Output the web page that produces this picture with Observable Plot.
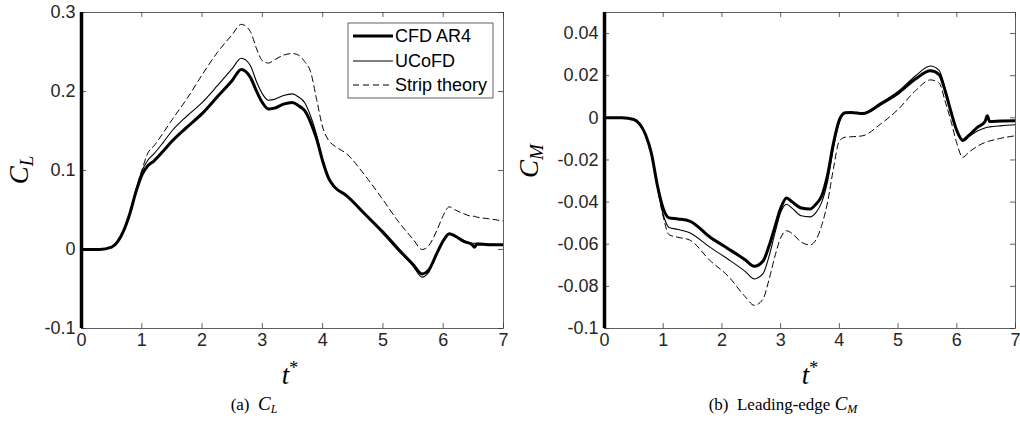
<!DOCTYPE html>
<html>
<head>
<meta charset="utf-8">
<script src="https://cdn.jsdelivr.net/npm/d3@7"></script>
<script src="https://cdn.jsdelivr.net/npm/@observablehq/plot@0.6"></script>
<style>
  html, body { margin: 0; padding: 0; background: #fff; }
  #wrap { position: relative; width: 1020px; height: 429px; overflow: hidden; }
  .panel { position: absolute; top: 0; }
  .cap { position: absolute; font-family: "Liberation Serif", "Times New Roman", serif; font-size: 17px; color: #000; white-space: nowrap; transform: translateX(-50%); }
  .cap i { font-style: italic; font-size: 19px; }
  .cap sub { font-size: 12px; font-style: italic; vertical-align: -3px; }
  .panel svg text.tk { font-size: 18px !important; fill: #262626; }
</style>
</head>
<body>
<div id="wrap"></div>
<script>
// ---------- data ----------
const tL = [0,0.3,0.5,0.6,0.7,0.8,0.9,1.0,1.1,1.2,1.35,1.5,1.75,2.0,2.25,2.5,2.65,2.8,2.9,3.0,3.1,3.2,3.35,3.5,3.6,3.7,3.8,3.9,4.0,4.1,4.2,4.4,4.7,5.0,5.25,5.5,5.65,5.75,5.9,6.0,6.1,6.2,6.35,6.48,6.52,6.56,6.75,7.0];
const clCFD = [0,0,0.003,0.01,0.024,0.045,0.072,0.094,0.106,0.112,0.124,0.137,0.155,0.172,0.193,0.214,0.228,0.218,0.201,0.186,0.178,0.179,0.184,0.186,0.182,0.176,0.161,0.140,0.112,0.090,0.079,0.068,0.045,0.022,0.001,-0.019,-0.031,-0.027,-0.004,0.011,0.020,0.017,0.010,0.006,0.003,0.007,0.006,0.006];
const clUCoFD = [0,0,0.003,0.01,0.024,0.046,0.075,0.099,0.113,0.121,0.135,0.150,0.169,0.186,0.207,0.229,0.242,0.233,0.213,0.197,0.189,0.190,0.195,0.197,0.193,0.186,0.169,0.145,0.114,0.091,0.079,0.067,0.044,0.020,-0.001,-0.021,-0.035,-0.030,-0.005,0.010,0.019,0.017,0.011,0.008,0.008,0.008,0.007,0.006];
const clStrip = [0,0,0.003,0.01,0.024,0.046,0.075,0.100,0.122,0.131,0.147,0.164,0.191,0.221,0.249,0.272,0.285,0.276,0.255,0.239,0.236,0.240,0.246,0.248,0.246,0.238,0.225,0.190,0.155,0.138,0.131,0.121,0.094,0.063,0.036,0.013,0.000,0.004,0.025,0.043,0.054,0.050,0.045,0.042,0.042,0.041,0.039,0.036];

const tR = [0,0.3,0.5,0.6,0.7,0.8,0.9,1.0,1.1,1.25,1.45,1.8,2.1,2.4,2.55,2.7,2.8,2.9,3.0,3.1,3.2,3.35,3.5,3.6,3.7,3.8,3.9,4.0,4.1,4.2,4.4,4.7,5.0,5.3,5.55,5.7,5.8,5.9,6.0,6.1,6.2,6.35,6.48,6.52,6.56,6.75,7.0];
const cmCFD = [0,0,-0.0008,-0.003,-0.008,-0.017,-0.032,-0.043,-0.0475,-0.048,-0.049,-0.0567,-0.062,-0.0675,-0.0705,-0.068,-0.061,-0.052,-0.043,-0.038,-0.040,-0.0428,-0.0433,-0.041,-0.037,-0.027,-0.012,-0.001,0.0024,0.0025,0.002,0.0065,0.0117,0.0185,0.0223,0.0205,0.013,0.003,-0.006,-0.0106,-0.0085,-0.0045,-0.0018,0.001,-0.0017,-0.0015,-0.0014];
const cmUCoFD = [0,0,-0.0008,-0.003,-0.008,-0.017,-0.033,-0.046,-0.052,-0.053,-0.0545,-0.0615,-0.067,-0.073,-0.0765,-0.074,-0.066,-0.055,-0.045,-0.041,-0.043,-0.0465,-0.047,-0.045,-0.040,-0.030,-0.014,-0.002,0.0022,0.0024,0.0022,0.007,0.0125,0.020,0.0246,0.0225,0.014,0.003,-0.0065,-0.0112,-0.009,-0.0062,-0.0048,-0.0045,-0.0043,-0.0038,-0.0033];
const cmStrip = [0,0,-0.0008,-0.003,-0.008,-0.017,-0.033,-0.047,-0.0555,-0.0567,-0.058,-0.0678,-0.075,-0.085,-0.089,-0.086,-0.077,-0.066,-0.057,-0.0536,-0.055,-0.059,-0.0603,-0.058,-0.051,-0.040,-0.024,-0.011,-0.0092,-0.009,-0.0085,-0.003,0.004,0.013,0.018,0.0165,0.008,-0.0014,-0.012,-0.0188,-0.0165,-0.0135,-0.0117,-0.0113,-0.011,-0.0097,-0.0085];

const xTicks = [0,1,2,3,4,5,6,7];
const yTicksL = [-0.1,0,0.1,0.2,0.3];
const yTicksR = [-0.1,-0.08,-0.06,-0.04,-0.02,0,0.02,0.04];
const seriesNames = ["CFD AR4", "UCoFD", "Strip theory"];

// ---------- helpers ----------
const styles = {
  "CFD AR4": {strokeWidth: 3, dash: null},
  "UCoFD": {strokeWidth: 1.1, dash: null},
  "Strip theory": {strokeWidth: 1, dash: "6,4"}
};
function rows(t, vals) { return t.map((x, i) => ({t: x, v: vals[i]})); }
const fmt = d => String(+d.toFixed(2));

function panel({series, yDomain, yTicks, marginLeft, marginRight}) {
  const W = 510, H = 390, mt = 12, mb = 62;
  const ih = H - mt - mb;
  const iw = W - marginLeft - marginRight;
  const marks = [];
  const axc = "#3a3a3a";
  marks.push(Plot.ruleX(xTicks, {stroke: axc, strokeWidth: 0.8, insetTop: ih - 5}));
  marks.push(Plot.ruleX(xTicks, {stroke: axc, strokeWidth: 0.8, insetBottom: ih - 5}));
  marks.push(Plot.ruleY(yTicks, {stroke: axc, strokeWidth: 0.8, insetRight: iw - 5}));
  marks.push(Plot.ruleY(yTicks, {stroke: axc, strokeWidth: 0.8, insetLeft: iw - 5}));
  marks.push(Plot.frame({stroke: axc, strokeWidth: 0.8}));
  for (const s of series) {
    const st = styles[s.name];
    marks.push(Plot.line(s.data, {x: "t", y: "v", stroke: "#000", strokeWidth: st.strokeWidth,
      strokeDasharray: st.dash || undefined, curve: "monotone-x", clip: true}));
  }
  marks.push(Plot.ruleX([0], {stroke: "#000", strokeWidth: 3.5}));
  marks.push(Plot.axisX(xTicks, {tickSize: 0, tickPadding: 5, label: null, tickFormat: fmt}));
  marks.push(Plot.axisY(yTicks, {tickSize: 0, tickPadding: 6, label: null, tickFormat: fmt}));
  const svg = Plot.plot({
    width: W, height: H, marginTop: mt, marginBottom: mb, marginLeft, marginRight,
    x: {domain: [0, 7]},
    y: {domain: yDomain},
    style: {fontFamily: "'Liberation Sans', Arial, sans-serif", color: "#262626", background: "#fff", overflow: "visible"},
    marks
  });
  d3.select(svg).selectAll("text").classed("tk", true)
    .attr("font-size", 18).style("font-size", "18px");
  d3.select(svg).selectAll("g").filter(function() { return this.querySelector("text"); })
    .attr("font-size", 18);
  return svg;
}

const wrap = d3.select("#wrap");

const left = panel({
  series: [
    {name: "Strip theory", data: rows(tL, clStrip)},
    {name: "UCoFD", data: rows(tL, clUCoFD)},
    {name: "CFD AR4", data: rows(tL, clCFD)}
  ],
  yDomain: [-0.1, 0.3], yTicks: yTicksL, marginLeft: 81, marginRight: 7
});
const right = panel({
  series: [
    {name: "Strip theory", data: rows(tR, cmStrip)},
    {name: "UCoFD", data: rows(tR, cmUCoFD)},
    {name: "CFD AR4", data: rows(tR, cmCFD)}
  ],
  yDomain: [-0.1, 0.05], yTicks: yTicksR, marginLeft: 94, marginRight: 5
});
wrap.append("div").attr("class", "panel").style("left", "0px").node().appendChild(left);
wrap.append("div").attr("class", "panel").style("left", "510px").node().appendChild(right);

// axis labels (math italic)
function mathLabel(svg, x, y, main, sub, rotate) {
  const t = d3.select(svg).append("text")
    .attr("transform", `translate(${x},${y})` + (rotate ? " rotate(-90)" : ""))
    .attr("text-anchor", "middle")
    .attr("font-family", "'Liberation Serif', 'Times New Roman', serif")
    .attr("font-style", "italic").attr("font-size", 27).attr("fill", "#000");
  t.append("tspan").text(main);
  if (sub) t.append("tspan").attr("font-size", 19).attr("dy", 5).text(sub);
  return t;
}
mathLabel(left, 28, 170, "C", "L", true);
mathLabel(right, 28, 161, "C", "M", true);
const tl = mathLabel(left, 290, 384, "t", null, false);
tl.append("tspan").attr("font-size", 18).attr("font-style", "normal").attr("dy", -10).text("*");
const tr = mathLabel(right, 300, 384, "t", null, false);
tr.append("tspan").attr("font-size", 18).attr("font-style", "normal").attr("dy", -10).text("*");

// legend (in left panel)
const lg = d3.select(left).append("g")
  .attr("font-family", "'Liberation Sans', Arial, sans-serif").attr("font-size", 18)
  .attr("text-anchor", "start");
lg.append("rect").attr("x", 348).attr("y", 23).attr("width", 145).attr("height", 75)
  .attr("fill", "#fff").attr("stroke", "#3a3a3a").attr("stroke-width", 0.8);
const rowsY = [36, 61, 85];
seriesNames.forEach((n, i) => {
  const st = styles[n];
  lg.append("line").attr("x1", 353).attr("x2", 393).attr("y1", rowsY[i]).attr("y2", rowsY[i])
    .attr("stroke", "#000").attr("stroke-width", st.strokeWidth)
    .attr("stroke-dasharray", st.dash);
  lg.append("text").attr("x", 395).attr("y", rowsY[i]).attr("dy", "0.36em")
    .attr("text-anchor", "start").attr("fill", "#000").text(n);
});

// captions
wrap.append("div").attr("class", "cap").style("left", "254px").style("top", "393px")
  .html("(a)&nbsp; <i>C</i><sub>L</sub>");
wrap.append("div").attr("class", "cap").style("left", "783px").style("top", "393px")
  .html("(b)&nbsp; Leading-edge <i>C</i><sub>M</sub>");
</script>
</body>
</html>
